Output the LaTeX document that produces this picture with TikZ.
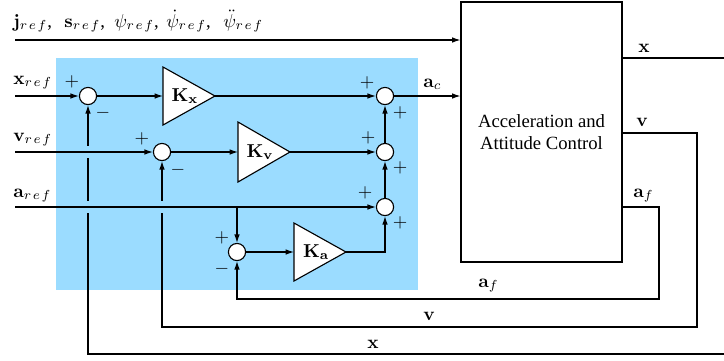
\documentclass[tikz,border=0pt]{standalone}
\usepackage[no-math]{fontspec}
\setmainfont{Liberation Serif}
\usetikzlibrary{arrows.meta}
\definecolor{bgblue}{RGB}{155,220,255}
\newcommand{\rfsub}{r\mkern2mu e\mkern2mu f}
\begin{document}
\begin{tikzpicture}[x=0.536pt,y=-0.536pt,
  line/.style={line width=0.6pt},
  arr/.style={line width=0.6pt,-{Latex[length=4.5pt,width=3pt]}},
  sumnode/.style={circle,draw,fill=white,line width=0.6pt,minimum size=9.2pt,inner sep=0pt},
  gainbox/.style={draw,fill=white,line width=0.6pt,line join=miter},
  sign/.style={inner sep=0pt},
  lab/.style={inner sep=0pt}]
\useasboundingbox (0,0) rectangle (724,360);
\fill[bgblue] (56,58) rectangle (418,290);
\node[draw,line width=0.6pt,minimum width=86.3pt,minimum height=139.4pt,align=center] (box) at (541.5,132) {Acceleration and\\Attitude Control};
% sum junctions
\node[sumnode] (s1) at (88,96) {};
\node[sumnode] (s2) at (162,152) {};
\node[sumnode] (s3) at (237,252) {};
\node[sumnode] (ca) at (385,96) {};
\node[sumnode] (cb) at (385,152) {};
\node[sumnode] (cc) at (385,207) {};
% gains
\coordinate (kxin) at (163,96); \coordinate (kxout) at (215,96);
\draw[gainbox] (163,67) -- (kxout) -- (163,125) -- cycle;
\node (kx) at (185,96) {$\mathbf{K_x}$};
\coordinate (kvin) at (238,152); \coordinate (kvout) at (290,152);
\draw[gainbox] (238,122) -- (kvout) -- (238,182) -- cycle;
\node (kv) at (260,152) {$\mathbf{K_v}$};
\coordinate (kain) at (294,252); \coordinate (kaout) at (346,252);
\draw[gainbox] (294,223) -- (kaout) -- (294,281) -- cycle;
\node (ka) at (316,252) {$\mathbf{K_a}$};
% feedback paths
\coordinate (xo1) at (724,58); \coordinate (xo2) at (724,354);
\coordinate (vo) at (697,133); \coordinate (vo2) at (697,327);
\coordinate (ao) at (659,207); \coordinate (ao2) at (659,299);
\draw[line] (box.east |- xo1) -- (xo1);
\draw[arr] (xo2) -| (s1.south);
\draw[arr] (box.east |- vo) -- (vo) -- (vo2) -| (s2.south);
\draw[arr] (box.east |- ao) -- (ao) -- (ao2) -| (s3.south);
% crossing gaps
\fill[bgblue] (84,145.5) rectangle (92,157.5);
\fill[bgblue] (84,200.5) rectangle (92,212.5);
\fill[bgblue] (158,200.5) rectangle (166,212.5);
% inputs
\coordinate (jin) at (15,40);
\draw[arr] (jin) -- (jin -| box.west);
\node[lab,anchor=base west] (jlab1) at (13,27) {$\mathbf{j}_{\rfsub}$,};
\node[lab,anchor=base west] (jlab2) at (64,27) {$\mathbf{s}_{\rfsub}$,};
\node[lab,anchor=base west] (jlab3) at (114,27) {$\psi_{\rfsub}$,};
\node[lab,anchor=base west] (jlab4) at (166,27) {$\dot{\psi}_{\rfsub}$,};
\node[lab,anchor=base west] (jlab5) at (223,27) {$\ddot{\psi}_{\rfsub}$};
\coordinate (xin) at (15,96);
\draw[arr] (xin) -- (s1.west);
\node[lab,anchor=base west] (xlab) at (13,84) {$\mathbf{x}_{\rfsub}$};
\coordinate (vin) at (15,152);
\draw[arr] (vin) -- (s2.west);
\node[lab,anchor=base west] (vlab) at (13,141) {$\mathbf{v}_{\rfsub}$};
\coordinate (ain) at (15,207);
\draw[arr] (ain) -- (cc.west);
\node[lab,anchor=base west] (alab) at (13,197) {$\mathbf{a}_{\rfsub}$};
\coordinate (abr) at (237,207);
\draw[arr] (abr) -- (s3.north);
% forward paths
\draw[arr] (s1.east) -- (kxin);
\draw[arr] (kxout) -- (ca.west);
\draw[arr] (s2.east) -- (kvin);
\draw[arr] (kvout) -- (cb.west);
\draw[arr] (s3.east) -- (kain);
\draw[arr] (kaout) -| (cc.south);
\draw[arr] (cc.north) -- (cb.south);
\draw[arr] (cb.north) -- (ca.south);
\draw[arr] (ca.east) -- (ca -| box.west);
\node[lab,anchor=base west] (aclab) at (423,87) {$\mathbf{a}_c$};
% signs
\node[sign] (p1) at (72,82) {$+$};
\node[sign] (m1) at (103,113) {$-$};
\node[sign] (p2) at (142,139) {$+$};
\node[sign] (m2) at (178,170) {$-$};
\node[sign] (p3) at (222,238) {$+$};
\node[sign] (m3) at (222,269) {$-$};
\node[sign] (pa1) at (367,83) {$+$};
\node[sign] (pa2) at (400,113) {$+$};
\node[sign] (pb1) at (368,138) {$+$};
\node[sign] (pb2) at (400,168) {$+$};
\node[sign] (pc1) at (365,193) {$+$};
\node[sign] (pc2) at (400,223) {$+$};
% output labels
\node[lab,anchor=base west] (xr) at (638,52) {$\mathbf{x}$};
\node[lab,anchor=base west] (vr) at (636,126) {$\mathbf{v}$};
\node[lab,anchor=base west] (ar) at (633,197) {$\mathbf{a}_f$};
\node[lab,anchor=base west] (ab) at (478,287) {$\mathbf{a}_f$};
\node[lab,anchor=base west] (vb) at (423,320) {$\mathbf{v}$};
\node[lab,anchor=base west] (xb) at (367,348) {$\mathbf{x}$};
\end{tikzpicture}
\end{document}
